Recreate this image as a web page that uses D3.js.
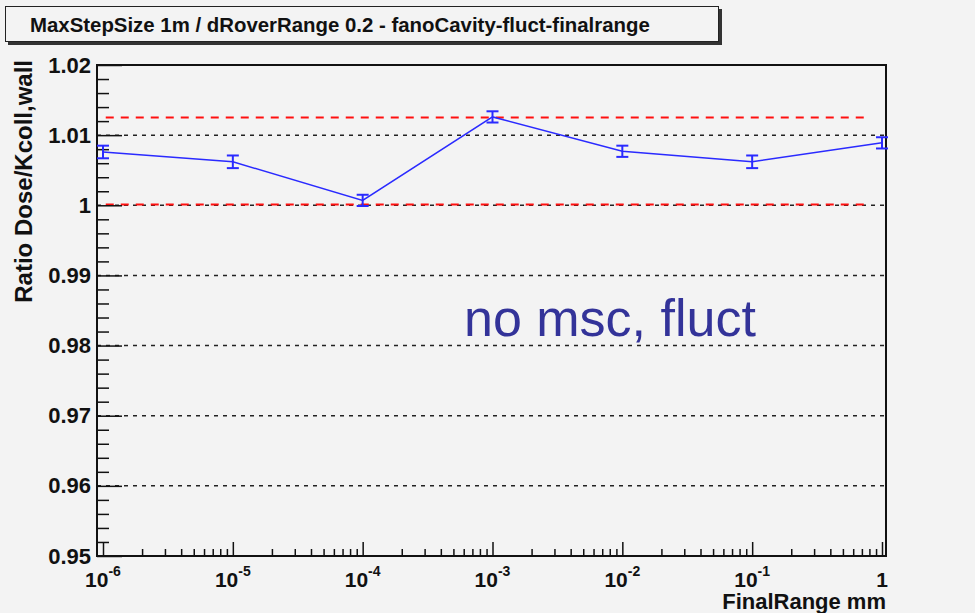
<!DOCTYPE html>
<html>
<head>
<meta charset="utf-8">
<script src="https://cdn.jsdelivr.net/npm/d3@7"></script>
<style>
  body { margin: 0; background: #f3f3f3; }
  svg { display: block; font-family: "Liberation Sans", Arial, sans-serif; }
</style>
</head>
<body>
<svg id="chart"></svg>
<script>
// Data
const finalRange = [1e-6, 1e-5, 1e-4, 1e-3, 1e-2, 1e-1, 1];
const ratio = [1.0076, 1.0062, 1.0007, 1.0126, 1.0077, 1.0062, 1.0089];
const ratioErr = [0.0009, 0.0009, 0.0008, 0.0008, 0.0008, 0.0009, 0.0008];
const refLines = [1.0125, 1.0001];
const refLineRange = [1.05e-6, 0.78];
const yMajor = [1.02, 1.01, 1, 0.99, 0.98, 0.97, 0.96, 0.95];
const yGrid = [1.01, 1, 0.99, 0.98, 0.97, 0.96];
const xLabels = ["-6", "-5", "-4", "-3", "-2", "-1", ""];

const width = 975, height = 613;
const frame = { left: 97, right: 886, top: 65, bottom: 556 };

const svg = d3.select("#chart").attr("width", width).attr("height", height);
svg.append("rect").attr("width", width).attr("height", height).attr("fill", "#f3f3f3");

// Scales
const x = d3.scaleLog().domain([1e-6, 1]).range([103, 882]);
const y = d3.scaleLinear().domain([0.95, 1.02]).range([frame.bottom, frame.top]);

// Title box
const titleG = svg.append("g");
titleG.append("rect").attr("x", 8).attr("y", 9).attr("width", 714).attr("height", 36).attr("fill", "#333");
titleG.append("rect").attr("x", 5.5).attr("y", 6.5).attr("width", 713).attr("height", 35)
  .attr("fill", "#f3f3f3").attr("stroke", "#222").attr("stroke-width", 1);
titleG.append("text").attr("x", 30).attr("y", 32)
  .attr("font-size", 20.4).attr("font-weight", "bold").attr("fill", "#111")
  .text("MaxStepSize 1m / dRoverRange 0.2 - fanoCavity-fluct-finalrange");

// Grid lines
svg.append("g").selectAll("line").data(yGrid).join("line")
  .attr("x1", frame.left).attr("x2", frame.right)
  .attr("y1", d => y(d)).attr("y2", d => y(d))
  .attr("stroke", "#222").attr("stroke-width", 1.5).attr("stroke-dasharray", "4,5");

// Reference lines
svg.append("g").selectAll("line").data(refLines).join("line")
  .attr("x1", x(refLineRange[0])).attr("x2", x(refLineRange[1]))
  .attr("y1", d => y(d)).attr("y2", d => y(d))
  .attr("stroke", "#ff1010").attr("stroke-width", 2).attr("stroke-dasharray", "8,7");

// Y axis major / minor ticks
const yAxis = d3.axisLeft(y).tickValues(yMajor).tickSize(-25).tickPadding(6)
  .tickFormat(d => d3.format("")(+d.toFixed(2)));
const yAxisG = svg.append("g").attr("transform", `translate(${frame.left},0)`).call(yAxis);
yAxisG.select(".domain").remove();
yAxisG.selectAll(".tick line").attr("stroke", "#111").attr("stroke-width", 1.5);
yAxisG.selectAll(".tick text").attr("font-size", 22).attr("font-weight", "bold")
  .attr("fill", "#111").attr("font-family", "Liberation Sans, Arial, sans-serif");

const yMinor = d3.range(0, 36).map(i => 0.95 + i * 0.002).filter(v => Math.round(v * 1000) % 10 !== 0);
const yMinorG = svg.append("g").attr("transform", `translate(${frame.left},0)`)
  .call(d3.axisLeft(y).tickValues(yMinor).tickSize(-12).tickFormat(""));
yMinorG.select(".domain").remove();
yMinorG.selectAll(".tick line").attr("stroke", "#111").attr("stroke-width", 1.5);

// X axis major / minor ticks
const xAxisG = svg.append("g").attr("transform", `translate(0,${frame.bottom})`)
  .call(d3.axisBottom(x).tickValues(finalRange).tickSize(-14).tickFormat(""));
xAxisG.select(".domain").remove();
xAxisG.selectAll(".tick line").attr("stroke", "#111").attr("stroke-width", 1.5);

const xMinor = [];
for (let e = -6; e < 0; e++) for (let m = 2; m <= 9; m++) xMinor.push(m * Math.pow(10, e));
const xMinorG = svg.append("g").attr("transform", `translate(0,${frame.bottom})`)
  .call(d3.axisBottom(x).tickValues(xMinor).tickSize(-7).tickFormat(""));
xMinorG.select(".domain").remove();
xMinorG.selectAll(".tick line").attr("stroke", "#111").attr("stroke-width", 1.5);

// X tick labels
const xl = svg.append("g").selectAll("text").data(finalRange).join("text")
  .attr("x", d => x(d)).attr("y", 587)
  .attr("text-anchor", "middle").attr("font-size", 21).attr("font-weight", "bold").attr("fill", "#111");
xl.each(function (d, i) {
  const t = d3.select(this);
  if (xLabels[i] === "") { t.text("1"); return; }
  t.append("tspan").text("10");
  t.append("tspan").attr("dy", -11).attr("font-size", 14).text(xLabels[i]);
});

// Frame
svg.append("rect").attr("x", frame.left).attr("y", frame.top)
  .attr("width", frame.right - frame.left).attr("height", frame.bottom - frame.top)
  .attr("fill", "none").attr("stroke", "#111").attr("stroke-width", 2);

// Data line and error bars
const line = d3.line().x((d, i) => x(finalRange[i])).y(d => y(d));
svg.append("path").datum(ratio).attr("d", line)
  .attr("fill", "none").attr("stroke", "#2a2aff").attr("stroke-width", 1.5);
const eb = svg.append("g").attr("stroke", "#2a2aff").attr("stroke-width", 2)
  .selectAll("g").data(ratio).join("g");
eb.append("line")
  .attr("x1", (d, i) => x(finalRange[i])).attr("x2", (d, i) => x(finalRange[i]))
  .attr("y1", (d, i) => y(d - ratioErr[i])).attr("y2", (d, i) => y(d + ratioErr[i]));
eb.append("line")
  .attr("x1", (d, i) => x(finalRange[i]) - 6).attr("x2", (d, i) => x(finalRange[i]) + 6)
  .attr("y1", (d, i) => y(d - ratioErr[i])).attr("y2", (d, i) => y(d - ratioErr[i]));
eb.append("line")
  .attr("x1", (d, i) => x(finalRange[i]) - 6).attr("x2", (d, i) => x(finalRange[i]) + 6)
  .attr("y1", (d, i) => y(d + ratioErr[i])).attr("y2", (d, i) => y(d + ratioErr[i]));

// Axis titles
svg.append("text").attr("x", frame.right).attr("y", 609).attr("text-anchor", "end")
  .attr("font-size", 22).attr("font-weight", "bold").attr("fill", "#111").text("FinalRange mm");
svg.append("text").attr("transform", `translate(32,${frame.top - 5}) rotate(-90)`)
  .attr("text-anchor", "end").attr("font-size", 24).attr("font-weight", "bold").attr("fill", "#111")
  .text("Ratio Dose/Kcoll,wall");

// Annotation
svg.append("text").attr("x", 464).attr("y", 336)
  .attr("font-size", 52).attr("fill", "#333399").text("no msc, fluct");
</script>
</body>
</html>
